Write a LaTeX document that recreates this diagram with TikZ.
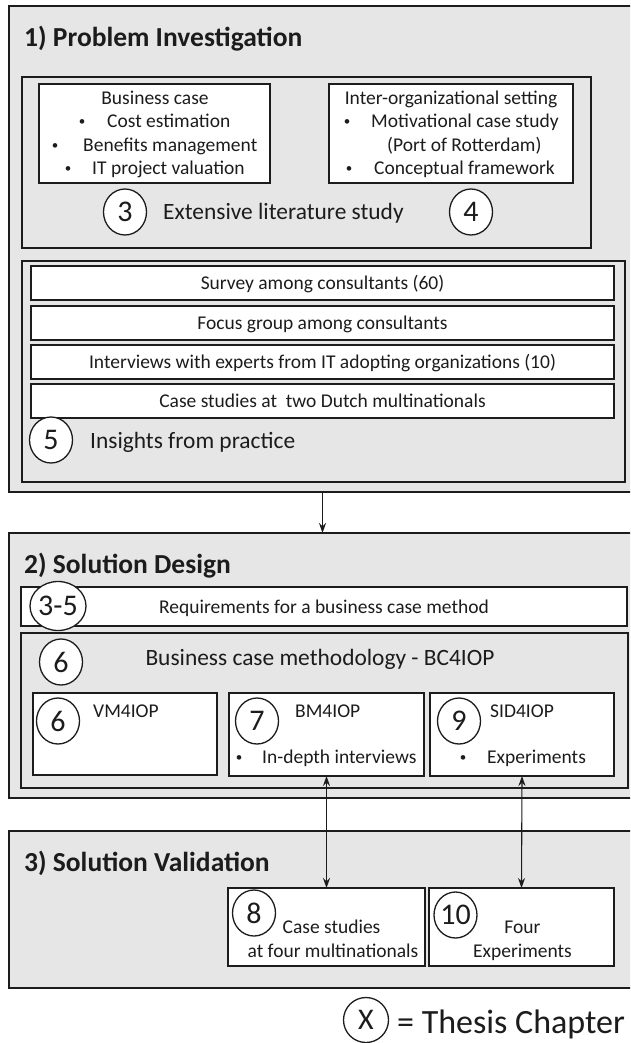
\documentclass[tikz,border=0pt]{standalone}
\usepackage{fontspec}
\setmainfont{Carlito}
\usetikzlibrary{arrows.meta,shapes.geometric}

\definecolor{panel}{RGB}{230,230,230}
\definecolor{ink}{RGB}{28,28,28}

\tikzset{
  box/.style={rectangle, draw=ink, line width=1.6pt, inner sep=0pt, outer sep=0pt},
  panelbox/.style={box, fill=panel},
  whitebox/.style={box, fill=white},
  chap/.style={ellipse, draw=ink, fill=white, line width=1.3pt, inner sep=0pt, outer sep=0pt,
    minimum width=43pt, minimum height=46pt, font=\fontsize{30}{30}\selectfont, text=ink},
  chapwide/.style={chap, minimum width=50pt, minimum height=49pt},
  sectitle/.style={anchor=base west, inner sep=0pt, text=ink, font=\fontsize{27.5}{32}\selectfont\bfseries},
  bigtxt/.style={inner sep=0pt, text=ink, font=\fontsize{23.4}{28}\selectfont},
  smalltxt/.style={inner sep=0pt, text=ink, font=\fontsize{19.5}{23.5}\selectfont},
  dot/.style={inner sep=0pt, text=ink, anchor=base, font=\fontsize{13}{14}\selectfont},
  legendtxt/.style={inner sep=0pt, text=ink, font=\fontsize{34}{38}\selectfont},
  flow/.style={draw=ink, line width=1.1pt, -{Stealth[length=10pt,width=7pt]}},
  flowboth/.style={draw=ink, line width=1.1pt, {Stealth[length=10pt,width=7pt]}-{Stealth[length=10pt,width=7pt]}},
}

\begin{document}
\begin{tikzpicture}[x=1pt,y=-1pt]
\useasboundingbox (0,0) rectangle (630,1043);
\clip (0,0) rectangle (630,1043);

% ---------------- 1) Problem Investigation ----------------
\node[panelbox, minimum width=641pt, minimum height=486pt] (sec1) at (329.5,249) {};
\node[sectitle] (t1) at (24,47) {1) Problem Investigation};

\node[panelbox, minimum width=569pt, minimum height=171pt] (lit) at (306.5,162.5) {};
\node[whitebox, minimum width=231pt, minimum height=99pt] (bc) at (154.5,133.5) {};
\node[whitebox, minimum width=244pt, minimum height=99pt] (io) at (451,133.5) {};

\node[smalltxt, anchor=base] (bc0) at (155,105) {Business case};
\node[dot] (bcb1) at (82,126) {•};
\node[smalltxt, anchor=base west] (bc1) at (107,128) {Cost estimation};
\node[dot] (bcb2) at (55,150) {•};
\node[smalltxt, anchor=base west] (bc2) at (83,152) {Benefits management};
\node[dot] (bcb3) at (68,173) {•};
\node[smalltxt, anchor=base west] (bc3) at (92,175) {IT project valuation};

\node[smalltxt, anchor=base] (io0) at (451,105) {Inter-organizational setting};
\node[dot] (iob1) at (347,126) {•};
\node[smalltxt, anchor=base west] (io1) at (371,128) {Motivational case study};
\node[smalltxt, anchor=base west] (io2) at (387,152) {(Port of Rotterdam)};
\node[dot] (iob3) at (349,173) {•};
\node[smalltxt, anchor=base west] (io3) at (374,175) {Conceptual framework};

\node[chap] (c3) at (125,212) {3};
\node[bigtxt, anchor=base west] (littxt) at (163,219) {Extensive literature study};
\node[chap] (c4) at (471,212) {4};

\node[panelbox, minimum width=603pt, minimum height=221pt] (ins) at (323.5,371.5) {};
\node[whitebox, minimum width=583pt, minimum height=34pt] (s1) at (322.5,283) {};
\node[whitebox, minimum width=583pt, minimum height=34pt] (s2) at (322.5,323) {};
\node[whitebox, minimum width=583pt, minimum height=34pt] (s3) at (322.5,362) {};
\node[whitebox, minimum width=583pt, minimum height=34pt] (s4) at (322.5,401) {};
\node[smalltxt, anchor=base] (s1t) at (322.5,289.5) {Survey among consultants (60)};
\node[smalltxt, anchor=base] (s2t) at (322.5,329.5) {Focus group among consultants};
\node[smalltxt, anchor=base] (s3t) at (322.5,368.5) {Interviews with experts from IT adopting organizations (10)};
\node[smalltxt, anchor=base] (s4t) at (322.5,407.5) {Case studies at\ \ two Dutch multinationals};
\node[chap] (c5) at (51,440) {5};
\node[bigtxt, anchor=base west] (instxt) at (90,448) {Insights from practice};

% ---------------- 2) Solution Design ----------------
\node[panelbox, minimum width=641pt, minimum height=265pt] (sec2) at (329.5,665.5) {};
\node[sectitle] (t2) at (24,573) {2) Solution Design};

\node[whitebox, minimum width=606pt, minimum height=39pt] (req) at (324,606.5) {};
\node[smalltxt, anchor=base] (reqt) at (324,613) {Requirements for a business case method};
\node[chapwide] (c35) at (58,606) {3-5};

\node[panelbox, minimum width=607pt, minimum height=155pt] (meth) at (324.5,710.5) {};
\node[chap] (c6a) at (61,662) {6};
\node[bigtxt, anchor=base] (metht) at (320,665) {Business case methodology - BC4IOP};

\node[whitebox, minimum width=184pt, minimum height=82pt] (vm) at (125,734) {};
\node[whitebox, minimum width=195pt, minimum height=83pt] (bm) at (326.5,734.5) {};
\node[whitebox, minimum width=184pt, minimum height=83pt] (sid) at (522,734.5) {};

\node[chap] (c6b) at (58,721) {6};
\node[smalltxt, anchor=base west] (vmt) at (93,717) {VM4IOP};

\node[chap] (c7) at (257,721) {7};
\node[smalltxt, anchor=base west] (bmt) at (295,717) {BM4IOP};
\node[dot] (bmb) at (239,761) {•};
\node[smalltxt, anchor=base west] (bmi) at (262,763) {In-depth interviews};

\node[chap] (c9) at (459,721) {9};
\node[smalltxt, anchor=base west] (sidt) at (490,717) {SID4IOP};
\node[dot] (sidb) at (463,761) {•};
\node[smalltxt, anchor=base west] (sidi) at (487,763) {Experiments};

% ---------------- 3) Solution Validation ----------------
\node[panelbox, minimum width=641pt, minimum height=157pt] (sec3) at (329.5,909.5) {};
\node[sectitle] (t3) at (24,871) {3) Solution Validation};

\node[whitebox, minimum width=197pt, minimum height=78pt] (cs8) at (326.5,927) {};
\node[whitebox, minimum width=185pt, minimum height=78pt] (ex10) at (521.5,927) {};
\node[chap] (c8) at (254,913) {8};
\node[smalltxt, anchor=base] (cs8a) at (331.5,933) {Case studies};
\node[smalltxt, anchor=base] (cs8b) at (333,957) {at four multinationals};
\node[chap] (c10) at (455.5,915) {10};
\node[smalltxt, anchor=base] (ex10a) at (522.5,933) {Four};
\node[smalltxt, anchor=base] (ex10b) at (522.5,957) {Experiments};

% ---------------- legend ----------------
\node[chap, minimum width=45pt, minimum height=45pt] (cx) at (366,1020) {X};
\node[legendtxt, anchor=base west] (legt) at (397,1033) {= Thesis Chapter};

% ---------------- connectors ----------------
\draw[flow] (sec1.south -| s1.center) -- (sec2.north -| s1.center);
\draw[flowboth] (bm.south) -- (cs8.north);
\draw[flowboth] (sid.south) -- (ex10.north);
\end{tikzpicture}
\end{document}
